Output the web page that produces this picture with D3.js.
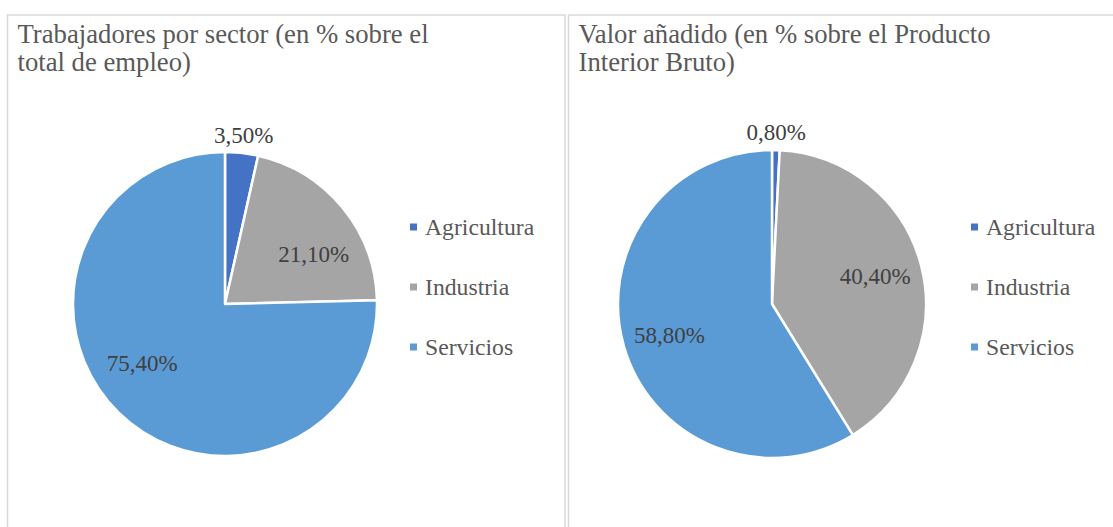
<!DOCTYPE html>
<head>
    <meta charset="utf-8" />
    <script src="https://d3js.org/d3.v7.min.js"></script>
    <style>
        body { margin: 0; background: #fff; }
        svg { display: block; }
    </style>
</head>
<body>
<div id="chart"></div>
<script>
    // datos
    const categories = ["Agricultura", "Industria", "Servicios"];
    const empleo = [3.5, 21.1, 75.4];
    const valorAnadido = [0.8, 40.4, 58.8];
    const titulos = [
        ["Trabajadores por sector (en % sobre el", "total de empleo)"],
        ["Valor añadido (en % sobre el Producto", "Interior Bruto)"]
    ];

    const FONT = "Liberation Serif";

    const colors = d3.scaleOrdinal()
        .domain(categories)
        .range(["#4472C4", "#A5A5A5", "#5B9BD5"]);

    const W = 1113, H = 527;

    const svg = d3.select("#chart")
        .append("svg")
        .attr("width", W)
        .attr("height", H);

    // paneles: recuadro, pie, leyenda y ajuste de etiquetas
    const panels = [
        { values: empleo, title: titulos[0], x0: 7.5, x1: 565, cx: 225, cy: 304, r: 152,
          legendX: 410, lblR: 0.67, lblRot: 10 },
        { values: valorAnadido, title: titulos[1], x0: 568.5, x1: 1125, cx: 772, cy: 304, r: 154,
          legendX: 971, lblR: 0.695, lblRot: -1 }
    ];

    const fmt = v => d3.format(".2f")(v).replace(".", ",") + "%";

    panels.forEach(function(p) {
        const g = svg.append("g");

        // recuadro
        g.append("rect")
            .attr("x", p.x0)
            .attr("y", 15)
            .attr("width", p.x1 - p.x0)
            .attr("height", H)
            .attr("fill", "none")
            .attr("stroke", "#D9D9D9")
            .attr("stroke-width", 1.5);

        // titulo
        g.append("text")
            .attr("x", p.x0 + 10)
            .attr("y", 43)
            .attr("font-family", FONT)
            .attr("font-size", 26.7)
            .attr("fill", "#595959")
            .selectAll("tspan")
            .data(p.title)
            .enter()
            .append("tspan")
            .attr("x", p.x0 + 10)
            .attr("dy", (d, i) => i === 0 ? 0 : 28)
            .text(d => d);

        const data = categories.map((c, i) => ({ name: c, value: p.values[i] }));
        const pie = d3.pie().sort(null).value(d => d.value);
        const arcs = pie(data);

        const arc = d3.arc().innerRadius(0).outerRadius(p.r);
        const labelArc = d3.arc().innerRadius(p.r * p.lblR).outerRadius(p.r * p.lblR);
        const outArc = d3.arc().innerRadius(p.r + 18).outerRadius(p.r + 18);
        const rot = p.lblRot * Math.PI / 180;

        const pg = g.append("g")
            .attr("transform", "translate(" + p.cx + "," + p.cy + ")");

        pg.selectAll("path")
            .data(arcs)
            .enter()
            .append("path")
            .attr("d", arc)
            .attr("fill", d => colors(d.data.name))
            .attr("stroke", "#fff")
            .attr("stroke-width", 2.5)
            .attr("stroke-linejoin", "round");

        // etiquetas de datos
        pg.selectAll("text.lbl")
            .data(arcs)
            .enter()
            .append("text")
            .attr("class", "lbl")
            .attr("transform", function(d) {
                let c;
                if (d.data.value < 5) {
                    c = outArc.centroid(d);
                } else {
                    c = labelArc.centroid({ startAngle: d.startAngle + rot, endAngle: d.endAngle + rot });
                }
                return "translate(" + c[0] + "," + (c[1] + 8) + ")";
            })
            .attr("text-anchor", "middle")
            .attr("font-family", FONT)
            .attr("font-size", 23)
            .attr("fill", "#404040")
            .text(d => fmt(d.data.value));

        // leyenda
        const ly = d3.scalePoint()
            .domain(categories)
            .range([227, 347]);

        const lg = g.selectAll("g.leg")
            .data(categories)
            .enter()
            .append("g")
            .attr("class", "leg")
            .attr("transform", d => "translate(" + p.legendX + "," + ly(d) + ")");

        lg.append("rect")
            .attr("x", 0)
            .attr("y", -3.5)
            .attr("width", 7)
            .attr("height", 7)
            .attr("fill", d => colors(d));

        lg.append("text")
            .attr("x", 15)
            .attr("y", 8)
            .attr("font-family", FONT)
            .attr("font-size", 23.7)
            .attr("fill", "#595959")
            .text(d => d);
    });
</script>
</body>
